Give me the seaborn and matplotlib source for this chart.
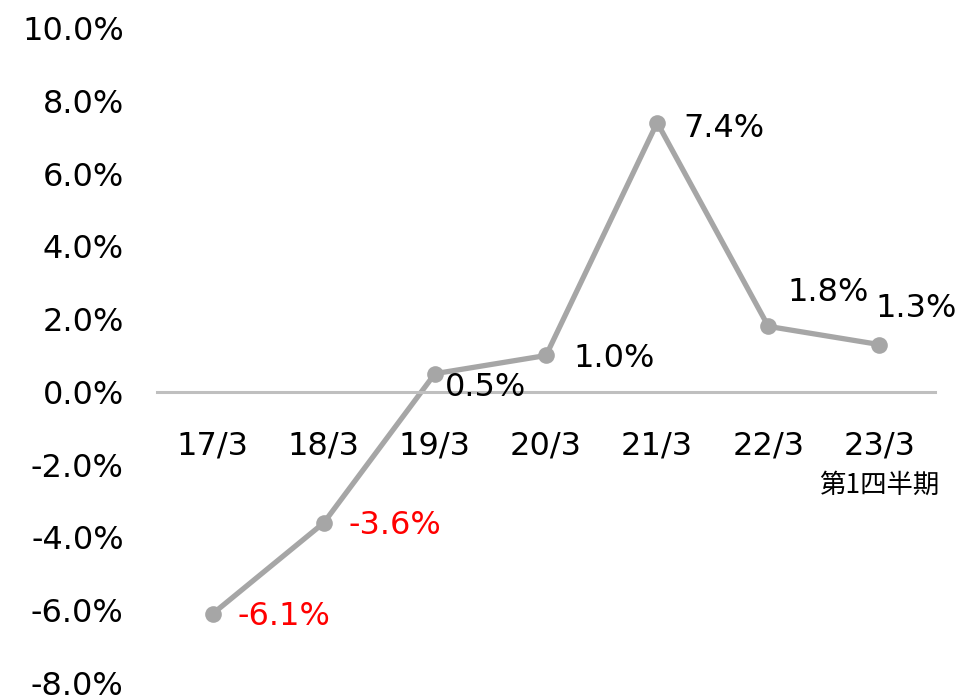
import pandas as pd
import matplotlib
matplotlib.use("Agg")
import matplotlib.pyplot as plt
import seaborn as sns

# Data
periods = ["17/3", "18/3", "19/3", "20/3", "21/3", "22/3", "23/3"]
growth = [-6.1, -3.6, 0.5, 1.0, 7.4, 1.8, 1.3]
# label offsets (pixels) relative to each marker
label_dx = [25, 25, 10, 27, 26, 19, -4]
label_dy = [-3, -3, -14, -3, -6, 34, 36]

df = pd.DataFrame({"period": periods, "growth": growth})

sns.set_style("white")
plt.rcParams['font.family'] = ['DejaVu Sans', 'Noto Sans CJK JP']

fig = plt.figure(figsize=(9.61, 6.95), dpi=100)
ax = fig.add_axes([0.1634, 0.0173, 0.8096, 0.9424])

sns.lineplot(data=df, x="period", y="growth", ax=ax, color="#A6A6A6",
             linewidth=3.8, marker="o", markersize=12, markeredgewidth=0,
             sort=False)

for i, v in enumerate(growth):
    ax.annotate(f"{v:.1f}%", (i, v), xytext=(label_dx[i], label_dy[i]),
                textcoords="offset pixels", ha="left", va="center",
                fontsize=23, color="#FF0000" if v < 0 else "#000000")

ax.set_xlim(-0.5, 6.5)
ax.set_ylim(-8, 10)
ax.set_yticks(range(-8, 11, 2))
ax.set_yticklabels([f"{t:.1f}%" for t in range(-8, 11, 2)])

for s in ["left", "right", "top"]:
    ax.spines[s].set_visible(False)
ax.spines["bottom"].set_position(("data", 0))
ax.spines["bottom"].set_color("#BFBFBF")
ax.spines["bottom"].set_linewidth(2.2)

ax.tick_params(axis="x", length=0, pad=28, labelsize=23, labelcolor="black")
ax.tick_params(axis="y", length=0, pad=24, labelsize=23, labelcolor="black")
ax.set_xlabel("")
ax.set_ylabel("")

ax.annotate("第1四半期", (6, 0), xytext=(0, -93), textcoords="offset pixels",
            ha="center", va="center", fontsize=19, color="black",
            family=['Noto Sans CJK JP', 'DejaVu Sans'])

fig.savefig("out.png", dpi=100)
